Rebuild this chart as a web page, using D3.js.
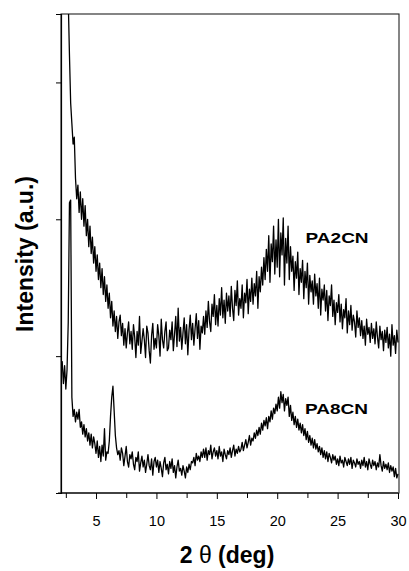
<!DOCTYPE html>
<html>
<head>
<meta charset="utf-8">
<script src="https://cdn.jsdelivr.net/npm/d3@7"></script>
<style>
  html, body { margin: 0; padding: 0; background: #fff; }
  svg { display: block; }
  text { font-family: "Liberation Sans", Arial, sans-serif; fill: #000; }
</style>
</head>
<body>
<div id="chart"></div>
<script>
// ---- data (2θ step 0.1°) ----
const step = 0.1;
const startPA8CN = 2.1;
const startPA2CN = 2.6;

const pa8cn = [
  880, 960, 800, 930, 760, 900, 1250, 2120, 2140,
  700, 560, 610, 520, 590, 540, 610, 480, 520, 430,
  500, 410, 470, 380, 440, 350, 430, 330, 410, 360,
  290, 380, 260, 340, 230, 350, 270, 470, 240, 300,
  290, 380, 560, 700, 780, 600, 420, 330, 280, 310,
  240, 330, 290, 200, 270, 340, 230, 190, 280, 250,
  300, 210, 170, 260, 230, 300, 160, 220, 270, 190,
  240, 150, 210, 280, 200, 170, 250, 130, 230, 260,
  190, 240, 150, 230, 180, 120, 220, 260, 170, 210,
  140, 230, 180, 250, 150, 200, 110, 190, 240, 160,
  180, 130, 200, 160, 110, 190, 150, 210, 170, 230,
  220, 260, 200, 290, 240, 270, 230, 300, 260, 320,
  260, 330, 240, 310, 280, 350, 250, 300, 330, 270,
  310, 250, 340, 270, 300, 230, 320, 280, 250, 310,
  280, 330, 260, 310, 350, 270, 320, 290, 340, 300,
  320, 370, 310, 350, 390, 330, 370, 420, 350, 400,
  380, 440, 400, 460, 420, 480, 430, 510, 460, 530,
  490, 550, 470, 560, 520, 600, 540, 620, 580, 650,
  600, 700, 620, 740, 660, 720, 600, 690, 640, 700,
  560, 640, 530, 590, 500, 560, 480, 540, 460, 510,
  440, 500, 420, 470, 390, 450, 370, 420, 350, 400,
  330, 390, 320, 360, 300, 340, 280, 330, 260, 310,
  250, 300, 230, 290, 260, 220, 280, 240, 270, 210,
  250, 200, 270, 220, 240, 190, 260, 230, 200, 250,
  210, 260, 180, 240, 220, 190, 250, 210, 230, 180,
  240, 200, 260, 190, 230, 170, 250, 210, 180, 240,
  200, 230, 170, 220, 190, 280, 200, 160, 230, 180,
  210, 170, 220, 150, 200, 160, 190, 120, 180, 110, 140
];

const pa2cn = [
  3900, 3600, 3200, 2850,
  2700, 2550, 2600, 2300, 2150, 2250, 2050, 2200, 2000, 2150,
  1950, 2100, 1880, 2000, 1800, 1950, 1750, 1870, 1680, 1800,
  1620, 1740, 1560, 1680, 1500, 1640, 1450, 1580, 1400, 1520,
  1350, 1460, 1280, 1400, 1220, 1330, 1180, 1290, 1130, 1250,
  1300, 1150, 1240, 1080, 1200, 1060, 1170, 1250, 1090, 1180,
  1050, 1230, 1140, 990, 1180, 1080, 1290, 1020, 1110, 1200,
  1120, 990, 1220, 1170, 1040, 950, 1150, 1240, 1050, 1130,
  1060, 1230, 1150, 1000, 1270, 1120, 1060, 1180, 1250, 1040,
  1060, 1190, 1120, 1250, 1040, 1160, 1290, 1070, 1350, 1110,
  1210, 1050, 1170, 1280, 1090, 1230, 1010, 1190, 1300, 1120,
  1240, 1080, 1200, 1310, 1130, 1260, 1050, 1220, 1170, 1290,
  1160, 1330, 1210, 1400, 1250, 1180, 1380, 1290, 1450, 1230,
  1370, 1220, 1420, 1300, 1500, 1280, 1410, 1240, 1460, 1330,
  1440, 1290, 1510, 1350, 1260, 1480, 1370, 1550, 1300, 1420,
  1350, 1520, 1280, 1460, 1390, 1560, 1310, 1490, 1400, 1570,
  1380, 1530, 1440, 1620, 1350, 1580, 1470, 1650, 1520, 1720,
  1560, 1780, 1620, 1880, 1540, 1820, 1690, 1950, 1600, 1850,
  1650, 2000, 1580, 1900, 1740, 2010, 1520, 1860, 1680, 1950,
  1560, 1800, 1620, 1730, 1480, 1690, 1570, 1760, 1450, 1640,
  1540, 1700, 1420, 1620, 1500, 1680, 1380, 1590, 1470, 1550,
  1380, 1600, 1440, 1530, 1350, 1570, 1300, 1490, 1410, 1520,
  1330, 1480, 1260, 1440, 1370, 1520, 1290, 1410, 1230, 1390,
  1320, 1450, 1250, 1380, 1200, 1340, 1280, 1420, 1170, 1330,
  1230, 1370, 1190, 1300, 1250, 1140, 1330, 1210, 1280, 1150,
  1260, 1130, 1220, 1080, 1270, 1160, 1210, 1100, 1240, 1130,
  1200, 1090, 1250, 1140, 1060, 1220, 1120, 1180, 1040, 1190,
  1100, 1210, 1060, 1160, 1000, 1230, 1080, 1150, 1020, 1190, 1100
];

const xMajorTicks = [5, 10, 15, 20, 25, 30];
const xMinorTicks = [2.5, 7.5, 12.5, 17.5, 22.5, 27.5];
const yTicks = [1000, 2000, 3000];
const seriesLabels = ["PA2CN", "PA8CN"];
const xTitle = ["2 ", "\u03B8", " (deg)"];
const yTitle = "Intensity (a.u.)";

// ---- drawing ----
const W = 409, H = 571;
const svg = d3.select("#chart").append("svg").attr("width", W).attr("height", H);

const x = d3.scaleLinear().domain([2.1, 30]).range([61, 398]);
const y = d3.scaleLinear().domain([0, 3500]).range([493, 14]);

const toPts = (arr, start) => arr.map((v, i) => ({ t: start + i * step, v }));

svg.append("defs").append("clipPath").attr("id", "plotclip")
  .append("rect").attr("x", x(2.1)).attr("y", y(3500))
  .attr("width", 399 - x(2.1)).attr("height", y(0) - y(3500));

// frame
svg.append("rect")
  .attr("x", x(2.1)).attr("y", y(3500))
  .attr("width", 399 - x(2.1)).attr("height", y(0) - y(3500))
  .attr("fill", "none").attr("stroke", "#222").attr("stroke-width", 1.1);

// bottom axis (major)
const gx = svg.append("g").attr("transform", `translate(0,${y(0)})`)
  .call(d3.axisBottom(x).tickValues(xMajorTicks).tickSize(6).tickPadding(17).tickFormat(d3.format("d")));
gx.select(".domain").attr("d", `M58,0H398`).attr("stroke", "#000").attr("stroke-width", 1.2);
gx.selectAll("text").attr("font-size", 14.5).style("font-family", "Liberation Sans, Arial, sans-serif");
gx.selectAll(".tick line").attr("stroke", "#000");

// bottom axis (minor)
const gxm = svg.append("g").attr("transform", `translate(0,${y(0)})`)
  .call(d3.axisBottom(x).tickValues(xMinorTicks).tickSize(5).tickFormat(""));
gxm.select(".domain").remove();

// left axis
const gy = svg.append("g").attr("transform", `translate(${x(2.1)},0)`)
  .call(d3.axisLeft(y).tickValues(yTicks).tickSize(5).tickFormat(""));
gy.select(".domain").attr("stroke", "#000").attr("stroke-width", 1.2);

// lines
const line = d3.line().x(d => x(d.t)).y(d => y(d.v));
const plot = svg.append("g").attr("clip-path", "url(#plotclip)");
plot.append("path").datum(toPts(pa2cn, startPA2CN))
  .attr("d", line).attr("fill", "none").attr("stroke", "#000").attr("stroke-width", 1.3)
  .attr("stroke-linejoin", "round");
plot.append("path").datum(toPts(pa8cn, startPA8CN))
  .attr("d", line).attr("fill", "none").attr("stroke", "#000").attr("stroke-width", 1.3)
  .attr("stroke-linejoin", "round");

// series labels
const labelPos = [{ t: 22.35, v: 1830 }, { t: 22.3, v: 580 }];
seriesLabels.forEach((s, i) => {
  svg.append("text").attr("x", x(labelPos[i].t)).attr("y", y(labelPos[i].v))
    .attr("font-size", 15.5).attr("font-weight", "bold")
    .attr("textLength", 63).attr("lengthAdjust", "spacingAndGlyphs")
    .text(s);
});

// axis titles
const xt = svg.append("text").attr("x", 227).attr("y", 563)
  .attr("text-anchor", "middle").attr("font-size", 23).attr("font-weight", "bold");
xt.append("tspan").text(xTitle[0]);
xt.append("tspan").attr("font-weight", "normal").text(xTitle[1]);
xt.append("tspan").text(xTitle[2]);

svg.append("text").attr("transform", "translate(33,254) rotate(-90)")
  .attr("text-anchor", "middle").attr("font-size", 23).attr("font-weight", "bold")
  .text(yTitle);
</script>
</body>
</html>
